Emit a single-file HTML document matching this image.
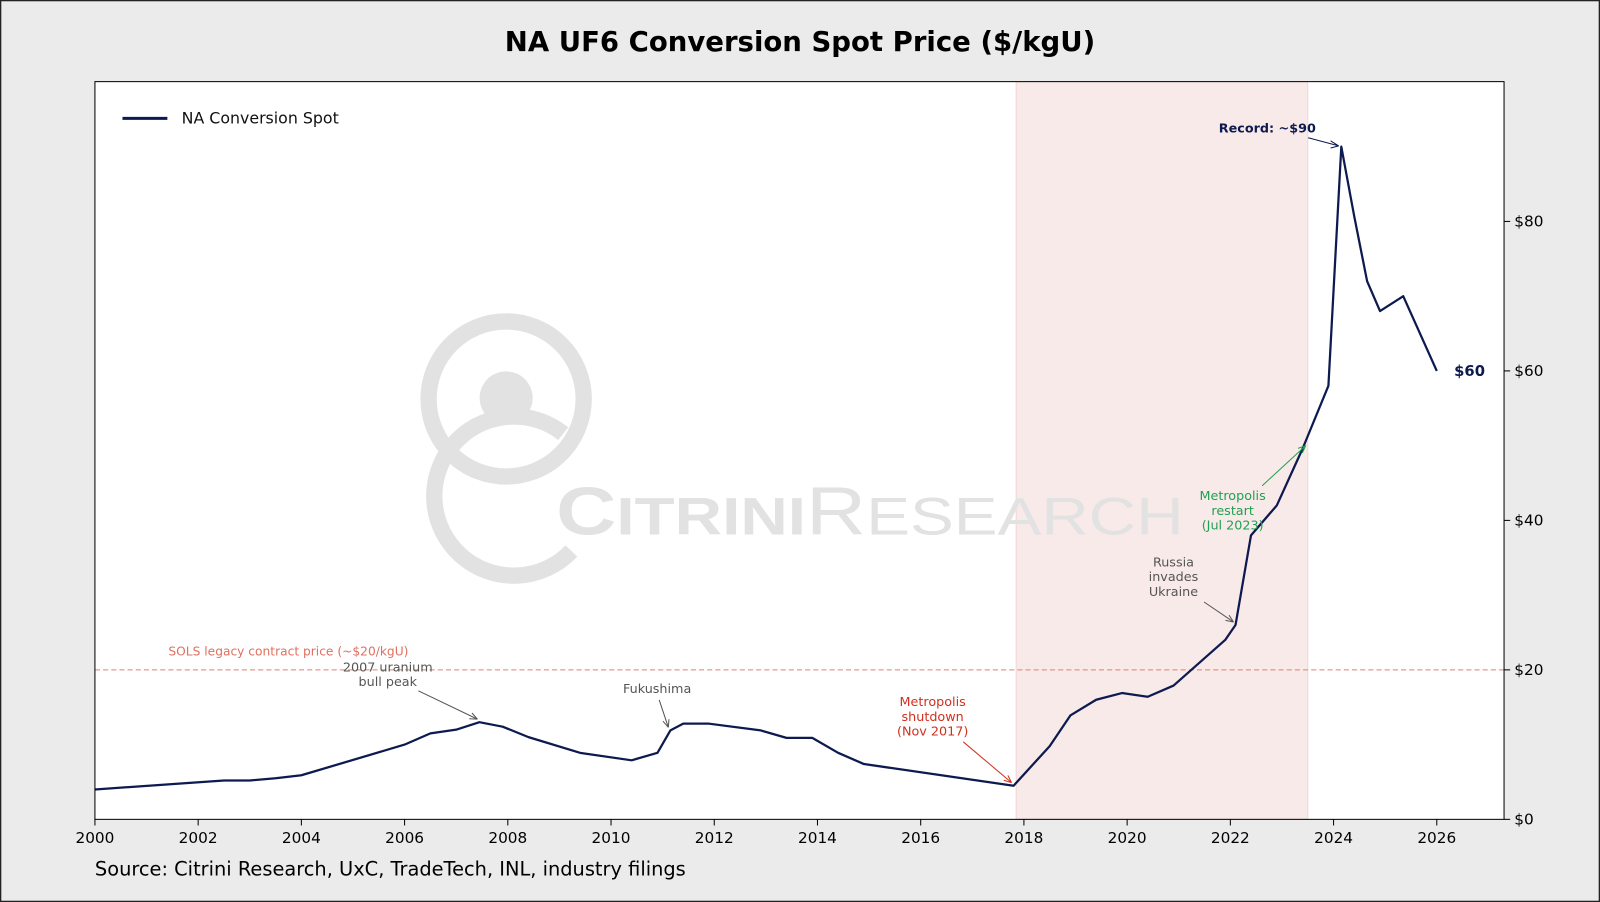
<!DOCTYPE html>
<html><head><meta charset="utf-8"><style>
html,body{margin:0;padding:0;background:#ebebeb;}
svg{display:block;font-family:"DejaVu Sans","Liberation Sans",sans-serif;}
</style></head><body>
<svg id="chart" width="1600" height="902" viewBox="0 0 1568 884" xmlns="http://www.w3.org/2000/svg">
<rect x="0.5" y="0.5" width="1567" height="883" fill="#ebebeb" stroke="#222" stroke-width="1.5"/>
<text x="784" y="50" text-anchor="middle" font-size="27" font-weight="bold" fill="#000">NA UF6 Conversion Spot Price ($/kgU)</text>
<rect x="93" y="80" width="1381" height="723" fill="#fff"/>
<g id="shade"></g>
<g fill="none" stroke="#e2e2e2">
<circle cx="496" cy="391" r="76" stroke-width="16"/>
<circle cx="496" cy="390" r="26" fill="#e2e2e2" stroke="none"/>
<path d="M 552 425 A 78 78 0 1 0 560 540" stroke-width="16"/>
<text x="545" y="524" font-size="66" fill="#e2e2e2" stroke="none" font-family="Liberation Sans,sans-serif" textLength="615" lengthAdjust="spacingAndGlyphs"><tspan font-weight="bold">C</tspan><tspan font-weight="bold" font-size="52">ITRINI</tspan><tspan>R</tspan><tspan font-size="52">ESEARCH</tspan></text>
</g>
<g id="grid"></g>
<g id="series"></g>
<g id="axes"></g>
<rect x="93" y="80" width="1381" height="723" fill="none" stroke="#000" stroke-width="1"/>
<g>
<line x1="120" y1="116" x2="164" y2="116" stroke="#0d1a4f" stroke-width="3"/>
<text x="178" y="121" font-size="15.5" fill="#111">NA Conversion Spot</text>
</g>
<text x="93" y="858" font-size="19" fill="#000">Source: Citrini Research, UxC, TradeTech, INL, industry filings</text>
</svg>
<script>
const years=[2000,2002.5,2003,2003.5,2004,2006,2006.5,2007,2007.45,2007.9,2008.4,2009.4,2010.4,2010.9,2011.15,2011.4,2011.9,2012.9,2013.4,2013.9,2014.4,2014.9,2017.8,2018.5,2018.9,2019.4,2019.9,2020.4,2020.9,2021.9,2022.1,2022.4,2022.9,2023.4,2023.9,2024.15,2024.4,2024.65,2024.9,2025.35,2026];
const prices=[4,5.2,5.2,5.5,5.9,10,11.5,12,13,12.4,11,8.9,7.9,8.9,11.9,12.8,12.8,11.9,10.9,10.9,8.9,7.4,4.5,9.8,13.9,16,16.9,16.4,17.9,24,26,38,42,49.6,58,90,80.7,72,68,70,60];
const xTicks=[2000,2002,2004,2006,2008,2010,2012,2014,2016,2018,2020,2022,2024,2026];
const yTicks=[0,20,40,60,80];
const yTickLabels=["$0","$20","$40","$60","$80"];
const shadeRange=[2017.85,2023.5];
const solsLevel=20;
const NS="http://www.w3.org/2000/svg";
const X=v=>93+(v-2000)*50.58, Y=v=>803-v*7.325;
function mk(tag,attrs,parent,txt){const e=document.createElementNS(NS,tag);for(const k in attrs)e.setAttribute(k,attrs[k]);if(txt!==undefined)e.textContent=txt;document.getElementById(parent).appendChild(e);return e;}
let e=mk('rect',{x:X(shadeRange[0]),y:80,width:X(shadeRange[1])-X(shadeRange[0]),height:723,fill:'#f9eaea',stroke:'#f3d6d6'},'shade');


e=mk('line',{x1:93,x2:1474,y1:Y(solsLevel),y2:Y(solsLevel),stroke:'#e08070','stroke-dasharray':'5,3','stroke-width':1},'grid');


e=mk('text',{x:165,y:Y(solsLevel)-14,'font-size':12,fill:'#e07060'},'grid','SOLS legacy contract price (~$20/kgU)');


e=mk('polyline',{points:years.map((y,i)=>X(y)+','+Y(prices[i])).join(' '),fill:'none',stroke:'#0d1a4f','stroke-width':2.2,'stroke-linejoin':'round'},'series');


xTicks.forEach(t=>{let l=mk('line',{x1:X(t),x2:X(t),y1:803,y2:809,stroke:'#000'},'axes');


let tx=mk('text',{x:X(t),y:826,'text-anchor':'middle','font-size':15},'axes',String(t));

});
yTicks.forEach((t,i)=>{let l=mk('line',{x1:1474,x2:1480,y1:Y(t),y2:Y(t),stroke:'#000'},'axes');


let tx=mk('text',{x:1484,y:Y(t)+5,'font-size':15},'axes',yTickLabels[i]);

});
const ann=[
 {lines:['2007 uranium','bull peak'],x:380,y:658,c:'#555',ax:[410,677],at:[2007.45,13]},
 {lines:['Fukushima'],x:644,y:679,c:'#555',ax:[646,686],at:[2011.15,11.9]},
 {lines:['Metropolis','shutdown','(Nov 2017)'],x:914,y:692,c:'#d03020',ax:[944,727],at:[2017.8,4.5]},
 {lines:['Russia','invades','Ukraine'],x:1150,y:555,c:'#555',ax:[1180,590],at:[2022.1,26]},
 {lines:['Metropolis','restart','(Jul 2023)'],x:1208,y:490,c:'#20a050',ax:[1237,476],at:[2023.5,49.6]}
];
ann.forEach((a,k)=>{a.lines.forEach((s,i)=>{let t=mk('text',{x:a.x,y:a.y+i*14.5,'text-anchor':'middle','font-size':12.5,fill:a.c},'axes',s);

});
let tx=X(a.at[0])-2,ty=Y(a.at[1])-3;
let l=mk('line',{x1:a.ax[0],y1:a.ax[1],x2:tx,y2:ty,stroke:a.c,'stroke-width':1},'axes');


let ang=Math.atan2(ty-a.ax[1],tx-a.ax[0]);
let p=mk('path',{d:`M${tx},${ty} L${tx-8*Math.cos(ang-0.4)},${ty-8*Math.sin(ang-0.4)} M${tx},${ty} L${tx-8*Math.cos(ang+0.4)},${ty-8*Math.sin(ang+0.4)}`,stroke:a.c,fill:'none'},'axes');

});
let rt=mk('text',{x:1242,y:130,'text-anchor':'middle','font-size':12.5,'font-weight':'bold',fill:'#0d1a4f'},'axes','Record: ~$90');


let rl=mk('path',{d:'M1282,135 L1312,143 M1312,143 L1304,138 M1312,143 L1304,145',stroke:'#0d1a4f',fill:'none'},'axes');


let lv=mk('text',{x:X(years[years.length-1])+17,y:Y(prices[prices.length-1])+5,'font-size':14.5,'font-weight':'bold',fill:'#0d1a4f'},'axes','$'+prices[prices.length-1]);


</script>
</body></html>
